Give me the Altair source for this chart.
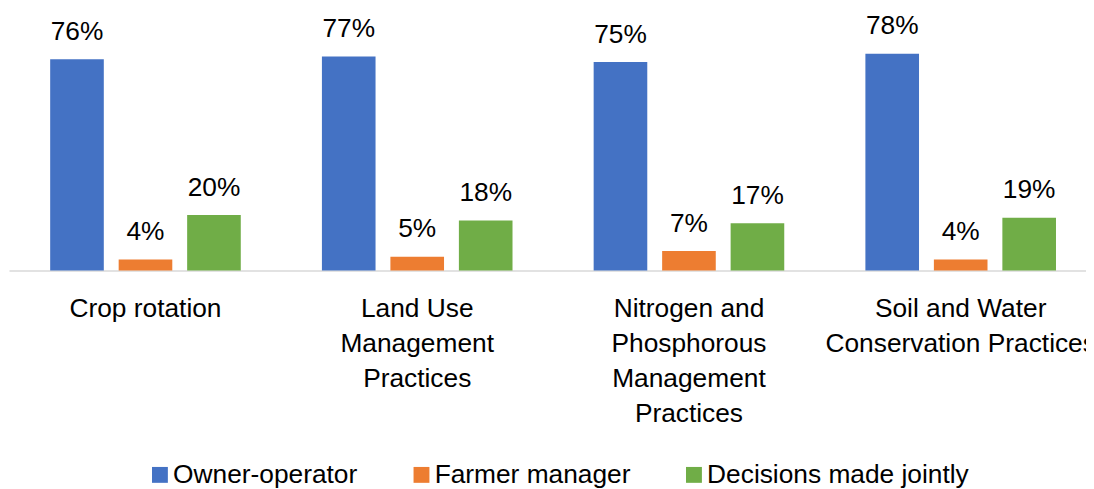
import altair as alt
import pandas as pd

# ---- data ----
categories = [
    "Crop rotation",
    "Land Use Management Practices",
    "Nitrogen and Phosphorous Management Practices",
    "Soil and Water Conservation Practices",
]
category_lines = [
    ["Crop rotation"],
    ["Land Use", "Management", "Practices"],
    ["Nitrogen and", "Phosphorous", "Management", "Practices"],
    ["Soil and Water", "Conservation Practices"],
]
series = ["Owner-operator", "Farmer manager", "Decisions made jointly"]
owner_operator = [76, 77, 75, 78]
farmer_manager = [4, 5, 7, 4]
decisions_jointly = [20, 18, 17, 19]
colors = ["#4472C4", "#ED7D31", "#70AD47"]

rows = []
for s, vals in zip(series, [owner_operator, farmer_manager, decisions_jointly]):
    for c, v in zip(categories, vals):
        rows.append({"category": c, "series": s, "value": v, "label": f"{v}%"})
df = pd.DataFrame(rows)

# multi-line axis labels
expr = "''"
for c, lines in reversed(list(zip(categories, category_lines))):
    arr = "[" + ",".join("'" + l + "'" for l in lines) + "]"
    expr = f"datum.label == '{c}' ? {arr} : ({expr})"

FONT = "Liberation Sans"
FS = 26.5

x_enc = alt.X(
    "category:N",
    sort=categories,
    title=None,
    scale=alt.Scale(paddingInner=0.2986, paddingOuter=0.131, align=0.5785),
    axis=alt.Axis(
        labelAngle=0,
        labelExpr=expr,
        labelFont=FONT,
        labelFontSize=FS,
        labelColor="#000000",
        labelLineHeight=35.5,
        labelPadding=25,
        labelLimit=500,
        labelOverlap=False,
        ticks=False,
        tickSize=0,
        domainColor="#D9D9D9",
        domainWidth=1.5,
        grid=False,
    ),
)
xoff = alt.XOffset("series:N", sort=series,
                   scale=alt.Scale(paddingInner=0.217, paddingOuter=0))
y_enc = alt.Y("value:Q", scale=alt.Scale(domain=[0, 90]), axis=None)

bars = alt.Chart(df).mark_bar().encode(
    x=x_enc,
    xOffset=xoff,
    y=y_enc,
    color=alt.Color(
        "series:N",
        sort=series,
        scale=alt.Scale(domain=series, range=colors),
        legend=alt.Legend(
            title=None,
            orient="none",
            legendX=138.8,
            legendY=444.5,
            direction="horizontal",
            symbolType="square",
            symbolSize=256,
            symbolStrokeWidth=0,
            symbolOpacity=1,
            labelFont=FONT,
            labelFontSize=FS,
            labelColor="#000000",
            labelOffset=0,
            labelLimit=400,
            columnPadding=50.5,
            padding=0,
        ),
    ),
)

text = alt.Chart(df).mark_text(
    baseline="alphabetic", dy=-19.5, font=FONT, fontSize=FS, color="#000000"
).encode(x=x_enc, xOffset=xoff, y=y_enc, text="label:N")

chart = (
    alt.layer(bars, text)
    .properties(
        width=1085,
        height=252,
        padding={"left": 1, "top": 10.7, "right": 0, "bottom": 218},
        autosize=alt.AutoSizeParams(type="none"),
        background="white",
    )
    .configure_view(stroke=None)
)

chart.save("out.html", embed_options={"renderer": "svg", "actions": False})
